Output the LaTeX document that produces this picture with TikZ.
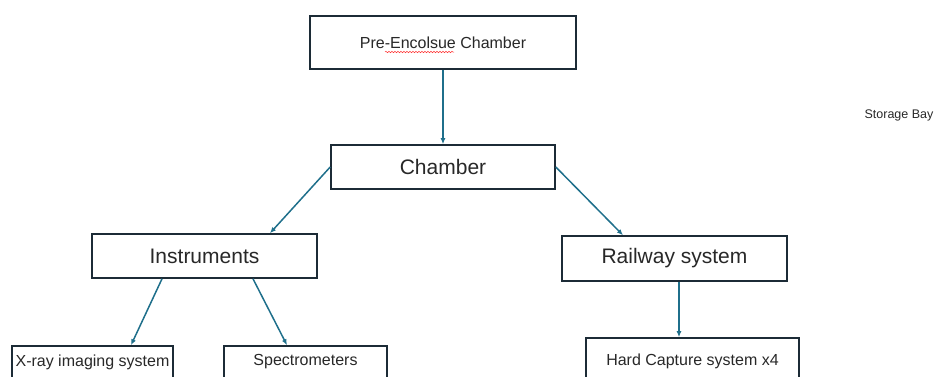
\documentclass[tikz,border=0pt]{standalone}
\usepackage{fontspec}
\setmainfont{Liberation Sans}
\usepackage{xcolor}
\usepackage{tikz}
\usetikzlibrary{positioning,arrows.meta,decorations.pathmorphing}
\definecolor{boxcolor}{RGB}{28, 43, 54}
\definecolor{linkcolor}{RGB}{31, 111, 139}
\definecolor{textcolor}{RGB}{40, 40, 40}
\tikzset{
    block/.style={rectangle, draw=boxcolor, line width=1.6pt, fill=white, inner sep=2pt, text=textcolor},
    big block/.style={block, font=\fontsize{21}{25}\selectfont},
    small block/.style={block, font=\fontsize{16}{19}\selectfont},
    link/.style={-{Latex[length=6pt,width=5pt]}, line width=1.5pt, linkcolor},
    spell mark/.style={red!80, line width=0.5pt, decorate, decoration={snake, amplitude=0.7pt, segment length=3pt}}
}

\begin{document}
\begin{tikzpicture}[x=1pt, y=-1pt]
    \useasboundingbox (0,0) rectangle (934,376);
    \clip (0,0) rectangle (934,376);

    % Top of the tree
    \node[small block, minimum width=266pt, minimum height=53pt] (pre) at (443,42.5) {Pre-Encolsue Chamber};
    \node[big block, minimum width=224pt, minimum height=44pt] (chamber) at (443,167) {Chamber};

    % Second level
    \node[big block, minimum width=225pt, minimum height=44pt] (instr) at (204.5,256) {Instruments};
    \node[big block, minimum width=225pt, minimum height=45pt] (rail) at (674.5,258.5) {Railway system};

    % Bottom level (cut off by the frame)
    \node[small block, minimum width=161pt, minimum height=32pt] (xray) at (92.5,362) {X-ray imaging system};
    \node[small block, minimum width=163pt, minimum height=32pt] (spec) at (305.5,362) {Spectrometers};
    \node[small block, minimum width=213pt, minimum height=46pt] (capture) at (692.5,361) {Hard Capture system x4};

    % Loose label on the right
    \node[text=textcolor, font=\fontsize{12.5}{15}\selectfont] (storage) at (899,115) {Storage Bay};

    % Spell-check underline
    \draw[spell mark] ([xshift=-58pt, yshift=-9.5pt]pre.center) -- ([xshift=11pt, yshift=-9.5pt]pre.center);

    % Connections
    \draw[link] (pre.south) -- (chamber.north);
    \draw[link] (chamber.west) -- ([xshift=65.5pt]instr.north);
    \draw[link] (chamber.east) -- ([xshift=-51.5pt]rail.north);
    \draw[link] ([xshift=-42.5pt]instr.south) -- ([xshift=38.5pt]xray.north);
    \draw[link] ([xshift=48.5pt]instr.south) -- ([xshift=-18.5pt]spec.north);
    \draw[link] ([xshift=4.5pt]rail.south) -- ([xshift=-13.5pt]capture.north);
\end{tikzpicture}
\end{document}
